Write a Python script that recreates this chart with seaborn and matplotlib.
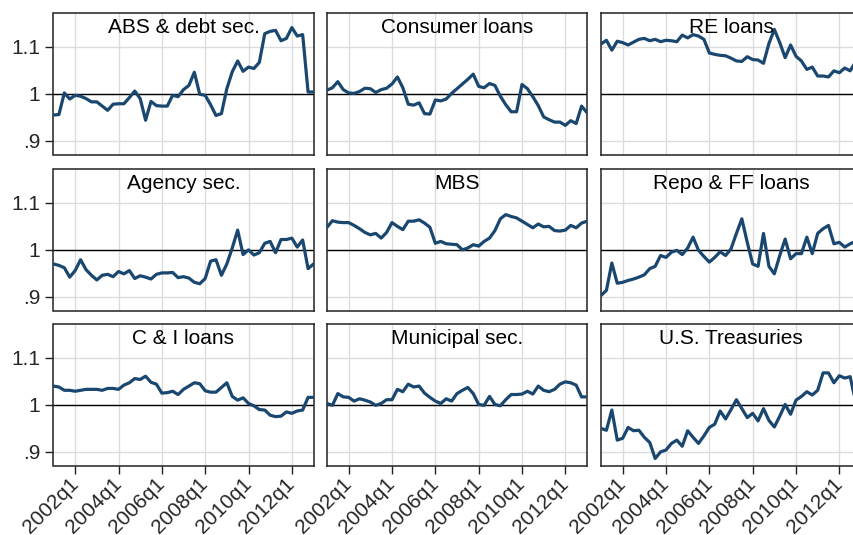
import numpy as np
import pandas as pd
import matplotlib
matplotlib.use("Agg")
import matplotlib.pyplot as plt
import seaborn as sns

# quarters 2001q1 .. 2013q1 (Stata %tq: 2001q1 = 164)
quarters = list(range(164, 213))
tick_pos = [168, 176, 184, 192, 200, 208]
tick_labels = ["2002q1", "2004q1", "2006q1", "2008q1", "2010q1", "2012q1"]
ytick_pos = [0.9, 1.0, 1.1]
ytick_labels = [".9", "1", "1.1"]

titles = ["ABS & debt sec.", "Consumer loans", "RE loans",
          "Agency sec.", "MBS", "Repo & FF loans",
          "C & I loans", "Municipal sec.", "U.S. Treasuries"]

abs_debt = [0.955, 0.956, 1.002, 0.989, 0.997, 0.995, 0.990, 0.983, 0.983, 0.974,
            0.965, 0.978, 0.979, 0.979, 0.992, 1.006, 0.990, 0.944, 0.984, 0.975,
            0.974, 0.974, 0.997, 0.994, 1.009, 1.018, 1.046, 0.999, 0.997, 0.977,
            0.954, 0.958, 1.011, 1.047, 1.070, 1.048, 1.057, 1.054, 1.067, 1.128,
            1.133, 1.135, 1.113, 1.118, 1.141, 1.123, 1.126, 1.004, 1.004]
consumer = [1.008, 1.013, 1.026, 1.009, 1.002, 1.001, 1.005, 1.012, 1.011, 1.003,
            1.009, 1.012, 1.021, 1.036, 1.013, 0.978, 0.976, 0.981, 0.958, 0.957,
            0.987, 0.985, 0.989, 1.001, 1.011, 1.021, 1.031, 1.042, 1.016, 1.013,
            1.022, 1.018, 0.995, 0.977, 0.962, 0.962, 1.020, 1.011, 0.994, 0.975,
            0.951, 0.945, 0.940, 0.940, 0.933, 0.943, 0.937, 0.974, 0.960]
re_loans = [1.106, 1.114, 1.093, 1.112, 1.109, 1.104, 1.110, 1.116, 1.118, 1.113,
            1.116, 1.111, 1.114, 1.113, 1.111, 1.125, 1.119, 1.126, 1.123, 1.116,
            1.087, 1.084, 1.082, 1.081, 1.076, 1.070, 1.069, 1.079, 1.073, 1.072,
            1.065, 1.107, 1.137, 1.109, 1.077, 1.104, 1.080, 1.070, 1.052, 1.057,
            1.038, 1.038, 1.036, 1.049, 1.045, 1.055, 1.049, 1.068, 1.070]
agency = [0.970, 0.967, 0.962, 0.942, 0.956, 0.979, 0.958, 0.946, 0.936, 0.946,
          0.948, 0.943, 0.954, 0.949, 0.956, 0.939, 0.945, 0.942, 0.938, 0.948,
          0.951, 0.951, 0.952, 0.941, 0.943, 0.940, 0.931, 0.928, 0.939, 0.976,
          0.979, 0.946, 0.970, 1.004, 1.042, 0.990, 1.000, 0.989, 0.994, 1.014,
          1.018, 0.994, 1.022, 1.022, 1.025, 1.006, 1.021, 0.960, 0.970]
mbs = [1.048, 1.062, 1.059, 1.058, 1.058, 1.052, 1.045, 1.037, 1.032, 1.035,
       1.025, 1.037, 1.058, 1.050, 1.043, 1.061, 1.061, 1.064, 1.057, 1.048,
       1.014, 1.018, 1.013, 1.012, 1.011, 1.000, 1.004, 1.011, 1.008, 1.018,
       1.025, 1.041, 1.066, 1.075, 1.071, 1.068, 1.061, 1.054, 1.047, 1.055,
       1.049, 1.050, 1.041, 1.040, 1.042, 1.052, 1.047, 1.057, 1.061]
repo_ff = [0.903, 0.914, 0.972, 0.929, 0.931, 0.935, 0.938, 0.942, 0.947, 0.960,
           0.965, 0.988, 0.984, 0.995, 0.999, 0.990, 1.004, 1.027, 0.999, 0.986,
           0.974, 0.984, 0.996, 0.988, 1.002, 1.035, 1.066, 1.016, 0.970, 0.965,
           1.035, 0.965, 0.949, 0.988, 1.023, 0.981, 0.992, 0.992, 1.027, 0.992,
           1.035, 1.045, 1.052, 1.013, 1.016, 1.006, 1.013, 1.018, 1.020]
ci_loans = [1.040, 1.038, 1.031, 1.031, 1.029, 1.031, 1.033, 1.033, 1.033, 1.031,
            1.035, 1.035, 1.033, 1.042, 1.047, 1.056, 1.054, 1.061, 1.048, 1.044,
            1.025, 1.026, 1.029, 1.022, 1.033, 1.040, 1.047, 1.045, 1.030, 1.027,
            1.027, 1.037, 1.047, 1.018, 1.010, 1.015, 1.003, 0.998, 0.990, 0.989,
            0.978, 0.975, 0.976, 0.985, 0.982, 0.987, 0.989, 1.016, 1.016]
municipal = [1.003, 0.999, 1.024, 1.017, 1.016, 1.008, 1.013, 1.010, 1.006, 0.999,
             1.003, 1.011, 1.011, 1.033, 1.028, 1.044, 1.038, 1.040, 1.025, 1.016,
             1.008, 1.003, 1.013, 1.008, 1.024, 1.031, 1.037, 1.024, 1.001, 0.999,
             1.018, 1.001, 0.998, 1.011, 1.022, 1.022, 1.023, 1.029, 1.023, 1.040,
             1.031, 1.028, 1.033, 1.044, 1.049, 1.047, 1.042, 1.017, 1.017]
treasuries = [0.950, 0.946, 0.989, 0.925, 0.929, 0.952, 0.945, 0.946, 0.931, 0.920,
              0.886, 0.900, 0.904, 0.918, 0.925, 0.912, 0.945, 0.931, 0.918, 0.934,
              0.952, 0.959, 0.987, 0.970, 0.990, 1.011, 0.992, 0.973, 0.982, 0.966,
              0.992, 0.967, 0.953, 0.976, 1.001, 0.980, 1.010, 1.018, 1.028, 1.021,
              1.031, 1.068, 1.068, 1.047, 1.062, 1.057, 1.060, 1.006, 0.990]

series = [abs_debt, consumer, re_loans, agency, mbs, repo_ff, ci_loans, municipal, treasuries]

df = pd.concat([pd.DataFrame({"q": quarters, "value": s, "panel": t})
                for t, s in zip(titles, series)], ignore_index=True)

sns.set_style("white")
plt.rcParams["font.family"] = ["Liberation Sans", "DejaVu Sans"]

W, H = 854, 535
fig = plt.figure(figsize=(W / 100, H / 100), dpi=100)

col_left = [53.5, 327, 601]
row_top = [13, 169, 324]
pw, ph = 260, 142
line_color = "#1a476f"

for k, title in enumerate(titles):
    r, c = divmod(k, 3)
    ax = fig.add_axes([col_left[c] / W, (H - row_top[r] - ph) / H, pw / W, ph / H])
    sub = df[df["panel"] == title]
    ax.axhline(1.0, color="black", lw=1.0, zorder=2)
    sns.lineplot(data=sub, x="q", y="value", ax=ax, color=line_color,
                 linewidth=2.3, zorder=3)
    ax.set_xlim(164, 212)
    ax.set_ylim(0.87, 1.172)
    ax.set_xticks(tick_pos)
    ax.set_yticks(ytick_pos)
    ax.grid(True, color="#dcdcdc", lw=1.0, zorder=0)
    ax.set_axisbelow(True)
    for sp in ax.spines.values():
        sp.set_color("#222222")
        sp.set_linewidth(1.1)
    ax.set_xlabel("")
    ax.set_ylabel("")
    ax.tick_params(axis="both", length=6, width=1, color="#222222", labelsize=15,
                   direction="out")
    if c == 0:
        ax.set_yticklabels(ytick_labels)
        ax.tick_params(axis="y", left=True)
    else:
        ax.tick_params(axis="y", left=False, labelleft=False)
    if r == 2:
        ax.set_xticklabels(tick_labels, rotation=45, ha="right", va="center",
                           rotation_mode="anchor")
        ax.tick_params(axis="x", bottom=True, pad=5)
    else:
        ax.tick_params(axis="x", bottom=False, labelbottom=False)
    ax.text(0.5, 1 - 20 / ph, title, transform=ax.transAxes, ha="center",
            va="baseline", fontsize=15, color="black", zorder=5)

fig.savefig("out.png", dpi=100)
